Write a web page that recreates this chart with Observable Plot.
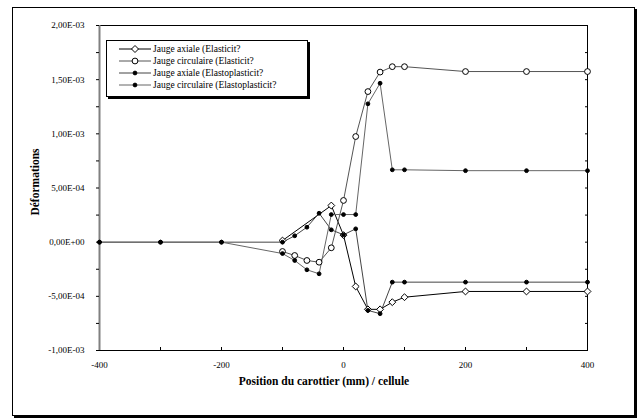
<!DOCTYPE html>
<html><head><meta charset="utf-8">
<script src="https://cdn.jsdelivr.net/npm/d3@7"></script>
<script src="https://cdn.jsdelivr.net/npm/@observablehq/plot@0.6"></script>
<style>
body{margin:0;background:#fff;}
#wrap{position:relative;width:638px;height:419px;font-family:"Liberation Serif","Times New Roman",serif;color:#000;}
#frame{position:absolute;left:12px;top:7px;width:621px;height:407px;border:1px solid #000;box-shadow:2px 2px 0 #000;}
#plot{position:absolute;left:0;top:0;}
#legend{position:absolute;left:106px;top:40px;width:200px;height:55px;border:1px solid #000;box-shadow:2px 2px 0 #000;background:#fff;}
.row{position:absolute;left:12px;height:12px;line-height:12px;font-size:9.5px;white-space:nowrap;display:flex;align-items:center;}
.row svg{margin-right:2px;}
#ytitle{position:absolute;left:35px;top:182px;transform:translate(-50%,-50%) rotate(-90deg);font-weight:bold;font-size:11.5px;white-space:nowrap;}
#xtitle{position:absolute;left:324px;top:381px;transform:translate(-50%,-50%);font-weight:bold;font-size:11.5px;white-space:nowrap;}
</style></head>
<body>
<div id="wrap">
  <div id="frame"></div>
  <div id="plot"></div>
  <div id="legend"></div>
  <div id="ytitle">Déformations</div>
  <div id="xtitle">Position du carottier (mm) / cellule</div>
</div>
<script>
// ---- data ----
const seriesNames = [
  "Jauge axiale (Elasticit?",
  "Jauge circulaire (Elasticit?",
  "Jauge axiale (Elastoplasticit?",
  "Jauge circulaire (Elastoplasticit?"
];
const xAxialE = [-100, -20, 0, 20, 40, 60, 80, 100, 200, 300, 400];
const axialE  = [0.15e-4, 3.38e-4, 0.65e-4, -4.09e-4, -6.2e-4, -6.2e-4, -5.54e-4, -5.08e-4, -4.55e-4, -4.55e-4, -4.55e-4];
const xCircE  = [-100, -80, -60, -40, -20, 0, 20, 40, 60, 80, 100, 200, 300, 400];
const circE   = [-0.86e-4, -1.23e-4, -1.69e-4, -1.85e-4, -0.52e-4, 3.85e-4, 9.75e-4, 1.39e-3, 1.57e-3, 1.62e-3, 1.62e-3, 1.575e-3, 1.575e-3, 1.575e-3];
const xEP     = [-400, -300, -200, -100, -80, -60, -40, -20, 0, 20, 40, 60, 80, 100, 200, 300, 400];
const axialEP = [0, 0, 0, 0, 0.59e-4, 1.38e-4, 2.67e-4, 1.14e-4, 0.68e-4, 1.23e-4, -6.3e-4, -6.6e-4, -3.69e-4, -3.69e-4, -3.69e-4, -3.69e-4, -3.69e-4];
const circEP  = [0, 0, 0, -1.05e-4, -1.69e-4, -2.55e-4, -2.92e-4, 2.55e-4, 2.55e-4, 2.55e-4, 1.277e-3, 1.467e-3, 6.68e-4, 6.68e-4, 6.6e-4, 6.6e-4, 6.6e-4];

const xDomain = [-400, 400];
const yDomain = [-1e-3, 2e-3];
const xTicks = [-400, -200, 0, 200, 400];
const xTickLabels = ["-400", "-200", "0", "200", "400"];
const xMinorTicks = [-300, -200, -100, 0, 100, 200, 300];
const yTicks = [-1e-3, -5e-4, 0, 5e-4, 1e-3, 1.5e-3, 2e-3];
const yTickLabels = ["-1,00E-03", "-5,00E-04", "0,00E+00", "5,00E-04", "1,00E-03", "1,50E-03", "2,00E-03"];
const yMinorTicks = [-1e-3, -7.5e-4, -5e-4, -2.5e-4, 0, 2.5e-4, 5e-4, 7.5e-4, 1e-3, 1.25e-3, 1.5e-3, 1.75e-3, 2e-3];

// ---- styles ----
const styles = [
  {stroke: "#000", symbol: "diamond2", r: 3.1, fill: "#fff"},
  {stroke: "#555", symbol: "circle", r: 2.9, fill: "#fff"},
  {stroke: "#444", symbol: "circle", r: 1.9, fill: "#000"},
  {stroke: "#666", symbol: "circle", r: 1.9, fill: "#000"}
];
const toRows = (xs, ys) => xs.map((x, i) => ({x, y: ys[i]}));
const series = [toRows(xAxialE, axialE), toRows(xCircE, circE), toRows(xEP, axialEP), toRows(xEP, circEP)];

const marks = [
  Plot.frame({stroke: "#000"}),
  Plot.ruleX([xDomain[0]], {stroke: "#808080", strokeWidth: 2}),
  Plot.axisY(yMinorTicks, {tickSize: 3, tickFormat: () => "", label: null}),
  Plot.axisY(yMinorTicks, {anchor: "right", tickSize: 3, dx: -3, tickFormat: () => "", label: null}),
  Plot.axisY(yTicks, {tickSize: 0, tickPadding: 15, tickFormat: d => yTickLabels[yTicks.indexOf(d)], label: null}),
  Plot.axisX(xMinorTicks, {tickSize: 3, dy: -3, tickFormat: () => "", label: null}),
  Plot.axisX(xTicks, {tickSize: 0, tickPadding: 11, tickFormat: d => xTickLabels[xTicks.indexOf(d)], label: null})
];
series.forEach((rows, i) => {
  const s = styles[i];
  marks.push(Plot.line(rows, {x: "x", y: "y", stroke: s.stroke, strokeWidth: 1}));
});
series.forEach((rows, i) => {
  const s = styles[i];
  marks.push(Plot.dot(rows, {x: "x", y: "y", symbol: s.symbol, r: s.r, fill: s.fill, stroke: "#000", strokeWidth: 1}));
});

const chart = Plot.plot({
  width: 638, height: 419,
  marginLeft: 99, marginRight: 51, marginTop: 25, marginBottom: 69,
  style: {fontFamily: '"Liberation Serif", "Times New Roman", serif', fontSize: "9px", background: "transparent", color: "#000"},
  x: {domain: xDomain},
  y: {domain: yDomain},
  marks
});
document.getElementById("plot").appendChild(chart);

// ---- legend ----
const legend = document.getElementById("legend");
seriesNames.forEach((name, i) => {
  const s = styles[i];
  const row = document.createElement("div");
  row.className = "row";
  row.style.top = (2 + i * 12) + "px";
  const sym = s.symbol === "diamond2"
    ? `<path d="M16,2.5L19.5,6L16,9.5L12.5,6Z" fill="${s.fill}" stroke="#000"/>`
    : `<circle cx="16" cy="6" r="${s.r}" fill="${s.fill}" stroke="#000"/>`;
  row.innerHTML = `<svg width="32" height="12"><line x1="0" x2="32" y1="6" y2="6" stroke="${s.stroke}"/>${sym}</svg><span>${name}</span>`;
  legend.appendChild(row);
});
</script>
</body></html>
